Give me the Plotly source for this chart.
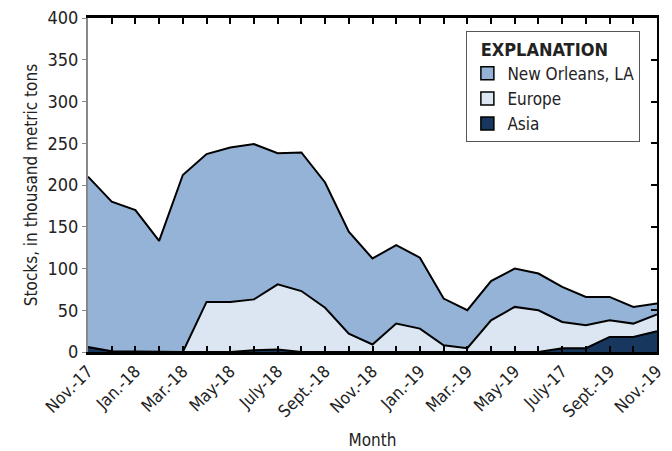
import plotly.graph_objects as go

months = ["Nov.-17", "Dec.-17", "Jan.-18", "Feb.-18", "Mar.-18", "Apr.-18", "May-18", "June-18",
          "July-18", "Aug.-18", "Sept.-18", "Oct.-18", "Nov.-18", "Dec.-18", "Jan.-19", "Feb.-19",
          "Mar.-19", "Apr.-19", "May-19", "June-19", "July-17", "Aug.-19", "Sept.-19", "Oct.-19", "Nov.-19"]
asia = [6, 1, 0, 0, 0, 0, 0, 2, 3, 0, 0, 0, 0, 0, 0, 0, 0, 0, 0, 0, 4.5, 4.5, 18, 18, 25]
europe = [0, 0, 0.5, 0, 0, 60, 60, 61, 78, 73, 53, 22, 9, 34, 28, 8, 4.5, 38, 54, 50, 31.5, 27.5, 20, 16, 20]
new_orleans = [204, 179, 169.5, 133, 212, 177, 185, 186, 157, 166, 150, 122, 103, 94, 85, 56, 45.5, 47, 46, 44, 42, 34, 28, 20, 13]
tick_labels = [m if i % 2 == 0 else "" for i, m in enumerate(months)]
yticks = [0, 50, 100, 150, 200, 250, 300, 350, 400]

x = list(range(len(months)))
font = "Liberation Sans Narrow, DejaVu Sans Condensed, Arial Narrow, sans-serif"

fig = go.Figure()
series = [("Asia", asia, "#17375E"), ("Europe", europe, "#DCE6F2"), ("New Orleans, LA", new_orleans, "#95B3D7")]
for name, vals, col in series:
    fig.add_trace(go.Scatter(x=x, y=vals, name=name, stackgroup="one", mode="lines",
                             line=dict(color="black", width=2), fillcolor=col, showlegend=False))
for name, vals, col in series:
    fig.add_trace(go.Scatter(x=[None], y=[None], name=name, mode="markers",
                             marker=dict(symbol="square", size=13, color=col,
                                         line=dict(color="black", width=1.5))))

# right-side axis with inside ticks
fig.add_trace(go.Scatter(x=[0], y=[0], yaxis="y2", showlegend=False, mode="markers",
                         marker=dict(opacity=0), hoverinfo="skip"))

fig.update_layout(
    width=672, height=451,
    margin=dict(l=88, r=15, t=18, b=99),
    paper_bgcolor="white", plot_bgcolor="white",
    font=dict(family=font, size=17, color="#222"),
    showlegend=True,
    legend=dict(x=0.665, y=0.96, xanchor="left", yanchor="top", traceorder="reversed",
                bordercolor="#555", borderwidth=1, bgcolor="white",
                title=dict(text="<b>  EXPLANATION</b>", font=dict(size=18)),
                font=dict(size=17), itemwidth=30, tracegroupgap=0),
    xaxis=dict(range=[0, 24], tickvals=x, ticktext=tick_labels, tickangle=-45,
               ticks="inside", ticklen=6, tickcolor="black", tickwidth=1.5,
               showline=True, linecolor="black", linewidth=2.5, mirror="ticks",
               showgrid=False, zeroline=False, automargin=False,
               title=dict(text="Month", font=dict(size=17), standoff=14),
               tickfont=dict(size=17)),
    yaxis=dict(range=[0, 400], tickvals=yticks, ticks="outside", ticklen=4, tickcolor="#888",
               showline=True, linecolor="#888", linewidth=2, showgrid=False, zeroline=False,
               automargin=False,
               title=dict(text="Stocks, in thousand metric tons", font=dict(size=17), standoff=6),
               tickfont=dict(size=18)),
    yaxis2=dict(range=[0, 400], tickvals=yticks, overlaying="y", side="right",
                ticks="inside", ticklen=6, tickcolor="black", tickwidth=1.5,
                showline=True, linecolor="black", linewidth=2, showticklabels=False,
                showgrid=False, zeroline=False, automargin=False),
)

fig.write_html("out.html", config={"displayModeBar": False},
               post_script="document.body.style.margin='0';")
